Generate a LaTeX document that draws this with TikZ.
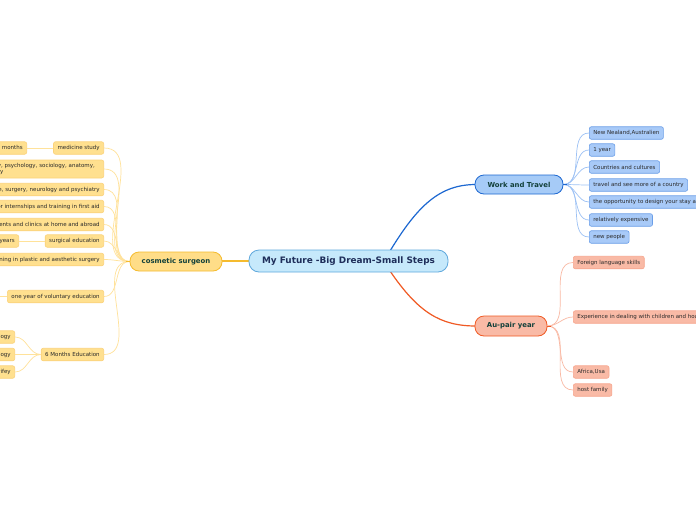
\documentclass[tikz,border=0pt]{standalone}
\usepackage{fontspec}
\setmainfont{DejaVu Sans}
\definecolor{mainfill}{HTML}{C6E9FB}
\definecolor{maindraw}{HTML}{5FA8DC}
\definecolor{maintext}{HTML}{1F2E5A}
\definecolor{yfill}{HTML}{FFDD88}
\definecolor{ydraw}{HTML}{F5BB2E}
\definecolor{yleaf}{HTML}{FFE08F}
\definecolor{yleafdraw}{HTML}{FBD27A}
\definecolor{yline}{HTML}{FFE29A}
\definecolor{bfill}{HTML}{A6CBF7}
\definecolor{bdraw}{HTML}{1D68D1}
\definecolor{bleaf}{HTML}{A8CAF8}
\definecolor{bleafdraw}{HTML}{6A9EE8}
\definecolor{bline}{HTML}{9EC2F5}
\definecolor{rfill}{HTML}{F9BAA6}
\definecolor{rdraw}{HTML}{F05A24}
\definecolor{rleafdraw}{HTML}{F7A68E}
\definecolor{rline}{HTML}{F9B9A4}
\definecolor{branchtext}{HTML}{12403A}
\definecolor{leaftext}{HTML}{2A2A2A}
\tikzset{
  centralnode/.style={draw=maindraw,fill=mainfill,line width=0.8pt,rounded corners=10pt,minimum width=199pt,minimum height=22pt,font=\fontsize{8.9}{10}\selectfont\bfseries,text=maintext,inner sep=0pt},
  branchnode/.style={line width=0.8pt,rounded corners=9pt,minimum height=19pt,font=\fontsize{6.9}{8}\selectfont\bfseries,text=branchtext,inner sep=0pt},
  leafnode/.style={line width=0.6pt,rounded corners=2pt,minimum height=12.5pt,inner xsep=4pt,inner ysep=0pt,font=\fontsize{5.5}{6.6}\selectfont,text=leaftext},
  yleafnode/.style={leafnode,fill=yleaf,draw=yleafdraw},
  bleafnode/.style={leafnode,fill=bleaf,draw=bleafdraw},
  rleafnode/.style={leafnode,fill=rfill,draw=rleafdraw},
  yconn/.style={draw=yline,line width=0.7pt},
  bconn/.style={draw=bline,line width=0.7pt},
  rconn/.style={draw=rline,line width=0.7pt},
}
\begin{document}
\begin{tikzpicture}[x=1pt,y=-1pt]
\useasboundingbox (0,0) rectangle (696,520);
\clip (0,0) rectangle (696,520);
\fill[white] (0,0) rectangle (696,520);

% main connectors
\draw[draw=bdraw,line width=1.2pt] (390,251) .. controls (418,205) and (440,184.5) .. (476,184.5);
\draw[draw=rdraw,line width=1.2pt] (390,271) .. controls (418,312) and (440,326) .. (476,326);
\draw[draw=ydraw,line width=1.2pt] (221,261) -- (250,261);

% central
\node[centralnode] (main) at (348.5,261) {My Future -Big Dream-S\raisebox{-0.8pt}{mall Steps}};

% branches
\node[branchnode,fill=yfill,draw=ydraw,minimum width=92pt] (cos) at (176,261.5) {cosmetic surgeon};
\node[branchnode,fill=bfill,draw=bdraw,minimum width=88pt] (wt) at (519,184.5) {Work and Travel};
\node[branchnode,fill=rfill,draw=rdraw,minimum width=72pt,minimum height=20pt] (au) at (511,326) {Au-pair year};

% Work and Travel leaves
\node[bleafnode,anchor=west] (w1) at (589,133) {New Nealand,Australien};
\node[bleafnode,anchor=west] (w2) at (589,150) {1 year};
\node[bleafnode,anchor=west] (w3) at (589,167) {Countries and cultures};
\node[bleafnode,anchor=west] (w4) at (589,185) {travel and see more of a country};
\node[bleafnode,anchor=west] (w5) at (589,202) {the opportunity to design your stay abroad individually};
\node[bleafnode,anchor=west] (w6) at (589,220) {relatively expensive};
\node[bleafnode,anchor=west] (w7) at (589,237) {new people};
\foreach \n in {w1,w2,w3,w4,w5,w6,w7}{
  \draw[bconn] (wt.east) to[out=0,in=180] (\n.west);
}
\draw[draw=bdraw,line width=1pt] (wt.east) -- ++(4,0);

% Au-pair leaves
\node[rleafnode,anchor=west] (a1) at (573,262.5) {Foreign language skills};
\node[rleafnode,anchor=west] (a2) at (573,317) {Experience in dealing with children and household};
\node[rleafnode,anchor=west] (a3) at (573,372) {Africa,Usa};
\node[rleafnode,anchor=west] (a4) at (573,390) {host family};
\foreach \n in {a1,a2,a3,a4}{
  \draw[rconn] (au.east) to[out=0,in=180] (\n.west);
}
\draw[draw=rdraw,line width=1pt] (au.east) -- ++(4,0);

% cosmetic surgeon leaves
\node[yleafnode,anchor=east] (c1) at (104,148) {medicine study};
\node[yleafnode,anchor=east,minimum height=18pt,text width=126pt,align=left] (c2) at (104,169) {chemistry, psychology, sociology, anatomy,\\physiology};
\node[yleafnode,anchor=east] (c3) at (104,189.5) {internal medicine, surgery, neurology and psychiatry};
\node[yleafnode,anchor=east] (c4) at (104,206.5) {Time for internships and training in first aid};
\node[yleafnode,anchor=east] (c5) at (104,224.5) {departments and clinics at home and abroad};
\node[yleafnode,anchor=east] (c6) at (104,241) {surgical education};
\node[yleafnode,anchor=east] (c7) at (104,259.5) {further training in plastic and aesthetic surgery};
\node[yleafnode,anchor=east] (c8) at (104,296.5) {one year of voluntary education};
\node[yleafnode,anchor=east] (c9) at (104,354.5) {6 Months Education};
\foreach \n in {c1,c2,c3,c4,c5,c6,c7,c8,c9}{
  \draw[yconn] (cos.west) to[out=180,in=0] (\n.east);
}
\draw[draw=ydraw,line width=1pt] (cos.west) -- ++(-4,0);

% sub-leaves
\node[yleafnode,anchor=east] (m1) at (27,148) {six years and three months};
\draw[yconn] (c1.west) -- (m1.east);
\node[yleafnode,anchor=east] (s1) at (19,241) {6 years};
\draw[yconn] (c6.west) -- (s1.east);
\coordinate (v1) at (-12,296.5);
\draw[yconn] (c8.west) -- (v1);
\node[yleafnode,anchor=east] (e1) at (15,337) {Biology};
\node[yleafnode,anchor=east] (e2) at (15,354.5) {Psychology};
\node[yleafnode,anchor=east] (e3) at (15,372) {midwifey};
\foreach \n in {e1,e2,e3}{
  \draw[yconn] (c9.west) to[out=180,in=0] (\n.east);
}
\end{tikzpicture}
\end{document}
